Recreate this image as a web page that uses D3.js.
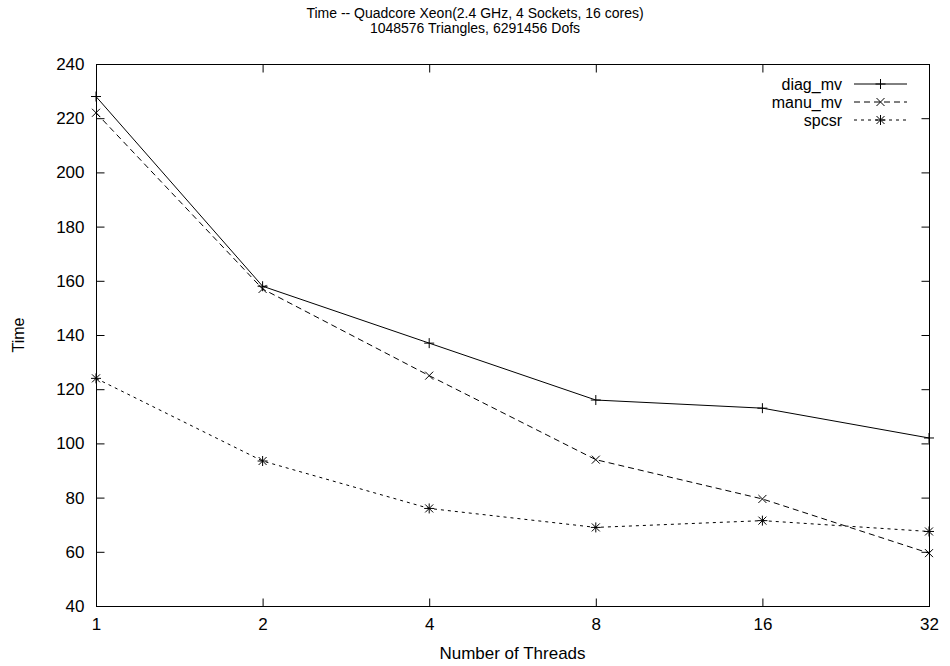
<!DOCTYPE html>
<html>
<head>
<meta charset="utf-8">
<script src="https://cdn.jsdelivr.net/npm/d3@7"></script>
<style>
  body { margin: 0; background: #fff; }
  text { font-family: "Liberation Sans", Arial, Helvetica, sans-serif; font-size: 17px; fill: #000; }
</style>
</head>
<body>
<div id="chart"></div>
<script>
// data
const threads = [1, 2, 4, 8, 16, 32];
const diagMv = [228, 158, 137, 116, 113, 102];
const manuMv = [222, 157, 125, 94, 79.5, 59.5];
const spcsr = [124, 93.5, 76, 69, 71.5, 67.5];
const yTicks = [40, 60, 80, 100, 120, 140, 160, 180, 200, 220, 240];
const titleLines = ["Time -- Quadcore Xeon(2.4 GHz, 4 Sockets, 16 cores)", "1048576 Triangles, 6291456 Dofs"];

const series = [
    { name: "diag_mv", values: diagMv, dash: null, mark: "plus" },
    { name: "manu_mv", values: manuMv, dash: "6,4", mark: "cross" },
    { name: "spcsr", values: spcsr, dash: "3,4", mark: "star" }
];

width = 950
height = 666
const margin = { top: 64, right: 21, bottom: 60, left: 96 };

const svg = d3.select("#chart")
    .append("svg")
    .attr("width", width)
    .attr("height", height);

const x = d3.scaleLog().base(2)
    .domain([1, 32])
    .range([margin.left, width - margin.right]);

const y = d3.scaleLinear()
    .domain([40, 240])
    .range([height - margin.bottom, margin.top]);

const tickLen = 8;

// frame
svg.append("rect")
    .attr("x", x(1) + 0.5)
    .attr("y", y(240) + 0.5)
    .attr("width", x(32) - x(1))
    .attr("height", y(40) - y(240))
    .attr("fill", "none")
    .attr("stroke", "black");

// axes, ticks pointing inward on all four sides (gnuplot mirror)
const axisStyle = g => {
    g.select(".domain").remove();
    g.selectAll("line").attr("stroke", "black");
    g.selectAll("text").attr("font-family", null).attr("font-size", null);
};

svg.append("g")
    .attr("transform", `translate(0,${y(40) + 0.5})`)
    .call(d3.axisBottom(x).tickValues(threads).tickFormat(d3.format("d"))
        .tickSizeInner(-tickLen).tickSizeOuter(0).tickPadding(tickLen + 3))
    .call(axisStyle);

svg.append("g")
    .attr("transform", `translate(0,${y(240) + 0.5})`)
    .call(d3.axisTop(x).tickValues(threads).tickFormat("")
        .tickSizeInner(-tickLen).tickSizeOuter(0))
    .call(axisStyle);

svg.append("g")
    .attr("transform", `translate(${x(1) + 0.5},0)`)
    .call(d3.axisLeft(y).tickValues(yTicks)
        .tickSizeInner(-tickLen).tickSizeOuter(0).tickPadding(tickLen + 4))
    .call(axisStyle);

svg.append("g")
    .attr("transform", `translate(${x(32) + 0.5},0)`)
    .call(d3.axisRight(y).tickValues(yTicks).tickFormat("")
        .tickSizeInner(-tickLen).tickSizeOuter(0))
    .call(axisStyle);

// title
svg.append("g")
    .selectAll("text")
    .data(titleLines)
    .enter()
    .append("text")
    .attr("x", width / 2)
    .attr("y", (d, i) => 18 + i * 15)
    .attr("text-anchor", "middle")
    .style("font-size", "14px")
    .text(d => d);

svg.append("text")
    .attr("x", (x(1) + x(32)) / 2)
    .attr("y", 659)
    .attr("text-anchor", "middle")
    .style("font-size", "17px")
    .text("Number of Threads");

svg.append("text")
    .attr("transform", `translate(24,${(y(40) + y(240)) / 2}) rotate(-90)`)
    .attr("text-anchor", "middle")
    .style("font-size", "16px")
    .text("Time");

// point symbols
function drawMark(g, kind, cx, cy) {
    const s = 5;
    let d = "";
    if (kind === "plus" || kind === "star") d += `M${cx - s},${cy}H${cx + s}M${cx},${cy - s}V${cy + s}`;
    if (kind === "cross" || kind === "star") {
        const c = 4;
        d += `M${cx - c},${cy - c}L${cx + c},${cy + c}M${cx - c},${cy + c}L${cx + c},${cy - c}`;
    }
    g.append("path").attr("d", d).attr("stroke", "black").attr("fill", "none");
}

const line = d3.line()
    .x((d, i) => x(threads[i]))
    .y(d => y(d));

series.forEach(function (s) {
    const g = svg.append("g");
    g.append("path")
        .datum(s.values)
        .attr("d", line)
        .attr("fill", "none")
        .attr("stroke", "black")
        .attr("stroke-dasharray", s.dash);
    s.values.forEach(function (v, i) {
        drawMark(g, s.mark, x(threads[i]), y(v));
    });
});

// legend
const legend = svg.append("g");
series.forEach(function (s, i) {
    const ly = 84 + i * 18;
    legend.append("text")
        .attr("x", 842)
        .attr("y", ly)
        .attr("dy", "0.35em")
        .attr("text-anchor", "end")
        .style("font-size", "16px")
        .text(s.name);
    legend.append("line")
        .attr("x1", 854).attr("x2", 907)
        .attr("y1", ly).attr("y2", ly)
        .attr("stroke", "black")
        .attr("stroke-dasharray", s.dash);
    drawMark(legend, s.mark, 880.5, ly);
});
</script>
</body>
</html>
